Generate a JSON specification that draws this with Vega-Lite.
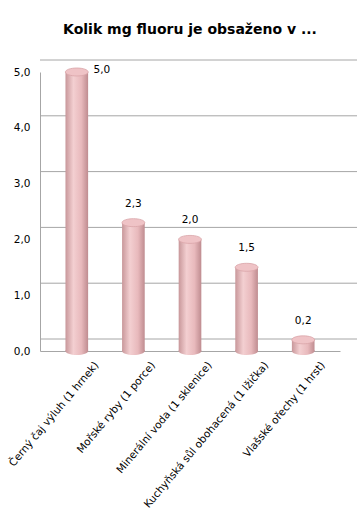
{
  "$schema": "https://vega.github.io/schema/vega-lite/v6.json",
  "width": 300,
  "height": 279,
  "autosize": "none",
  "padding": {"left": 40, "top": 72, "right": 23, "bottom": 172},
  "background": "white",
  "config": {"view": {"stroke": null}, "font": "DejaVu Sans"},
  "title": {"text": "Kolik mg fluoru je obsaženo v ...", "fontSize": 14, "fontWeight": "bold", "font": "DejaVu Sans", "color": "#000000", "offset": 23, "anchor": "middle"},
  "datasets": {
    "food": [
      {"item": "Černý čaj výluh (1 hrnek)", "mg": 5.0},
      {"item": "Mořské ryby (1 porce)", "mg": 2.3},
      {"item": "Minerální voda (1 sklenice)", "mg": 2.0},
      {"item": "Kuchyňská sůl obohacená (1 lžička)", "mg": 1.5},
      {"item": "Vlašské ořechy (1 hrst)", "mg": 0.2}
    ],
    "grid": [{"v": 0}, {"v": 1}, {"v": 2}, {"v": 3}, {"v": 4}, {"v": 5}]
  },
  "layer": [
    {
      "data": {"name": "grid"},
      "mark": {"type": "rule", "color": "#a6a6a6", "strokeWidth": 1, "xOffset": 17, "yOffset": -12},
      "encoding": {
        "y": {"field": "v", "type": "quantitative", "scale": {"domain": [0, 5]},
          "axis": {"title": null, "values": [0, 1, 2, 3, 4, 5], "grid": false, "ticks": false, "labelPadding": 10, "domainColor": "#a6a6a6", "labelFontSize": 10.5, "labelColor": "#000000", "labelFont": "DejaVu Sans", "labelExpr": "replace(format(datum.value, '.1f'), '.', ',')"}}
      }
    },
    {
      "data": {"name": "food"},
      "mark": {"type": "bar", "fill": {"gradient": "linear", "x1": 0, "x2": 1, "y1": 0, "y2": 0, "stops": [{"offset": 0, "color": "#c8979a"}, {"offset": 0.35, "color": "#f3cfd1"}, {"offset": 0.7, "color": "#e8b9bc"}, {"offset": 1, "color": "#bf8c90"}]}},
      "encoding": {
        "x": {"field": "item", "type": "nominal", "sort": null, "scale": {"paddingInner": 0.6, "paddingOuter": 0.45},
          "axis": {"title": null, "labelAngle": -50, "labelAlign": "right", "labelBaseline": "middle", "labelOffset": 20, "labelPadding": 12, "ticks": false, "domainColor": "#a6a6a6", "labelFontSize": 10.5, "labelColor": "#000000", "labelLimit": 300, "labelFont": "DejaVu Sans"}},
        "y": {"field": "mg", "type": "quantitative"}
      }
    },
    {
      "data": {"name": "food"},
      "mark": {"type": "point", "shape": "M-1,0A1,0.35,0,1,0,1,0A1,0.35,0,1,0,-1,0Z", "size": 520, "filled": true, "opacity": 1, "fill": {"gradient": "linear", "x1": 0, "x2": 1, "y1": 0, "y2": 0, "stops": [{"offset": 0, "color": "#c8979a"}, {"offset": 0.35, "color": "#f3cfd1"}, {"offset": 0.7, "color": "#e8b9bc"}, {"offset": 1, "color": "#bf8c90"}]}},
      "encoding": {
        "x": {"field": "item", "type": "nominal", "sort": null},
        "y": {"datum": 0, "type": "quantitative"}
      }
    },
    {
      "data": {"name": "food"},
      "mark": {"type": "point", "shape": "M-1,0A1,0.35,0,1,0,1,0A1,0.35,0,1,0,-1,0Z", "size": 520, "filled": true, "opacity": 1, "fill": "#efc3c6", "stroke": "#d9a4a8", "strokeWidth": 0.8},
      "encoding": {
        "x": {"field": "item", "type": "nominal", "sort": null},
        "y": {"field": "mg", "type": "quantitative"}
      }
    },
    {
      "data": {"name": "food"},
      "transform": [{"filter": "datum.mg < 4.5"}, {"calculate": "replace(format(datum.mg, '.1f'), '.', ',')", "as": "lab"}],
      "mark": {"type": "text", "dy": -19, "fontSize": 10.5, "color": "#000000", "font": "DejaVu Sans", "baseline": "middle"},
      "encoding": {
        "x": {"field": "item", "type": "nominal", "sort": null},
        "y": {"field": "mg", "type": "quantitative"},
        "text": {"field": "lab"}
      }
    },
    {
      "data": {"name": "food"},
      "transform": [{"filter": "datum.mg >= 4.5"}, {"calculate": "replace(format(datum.mg, '.1f'), '.', ',')", "as": "lab"}],
      "mark": {"type": "text", "dx": 25, "dy": -2, "fontSize": 10.5, "color": "#000000", "font": "DejaVu Sans", "baseline": "middle"},
      "encoding": {
        "x": {"field": "item", "type": "nominal", "sort": null},
        "y": {"field": "mg", "type": "quantitative"},
        "text": {"field": "lab"}
      }
    }
  ]
}
